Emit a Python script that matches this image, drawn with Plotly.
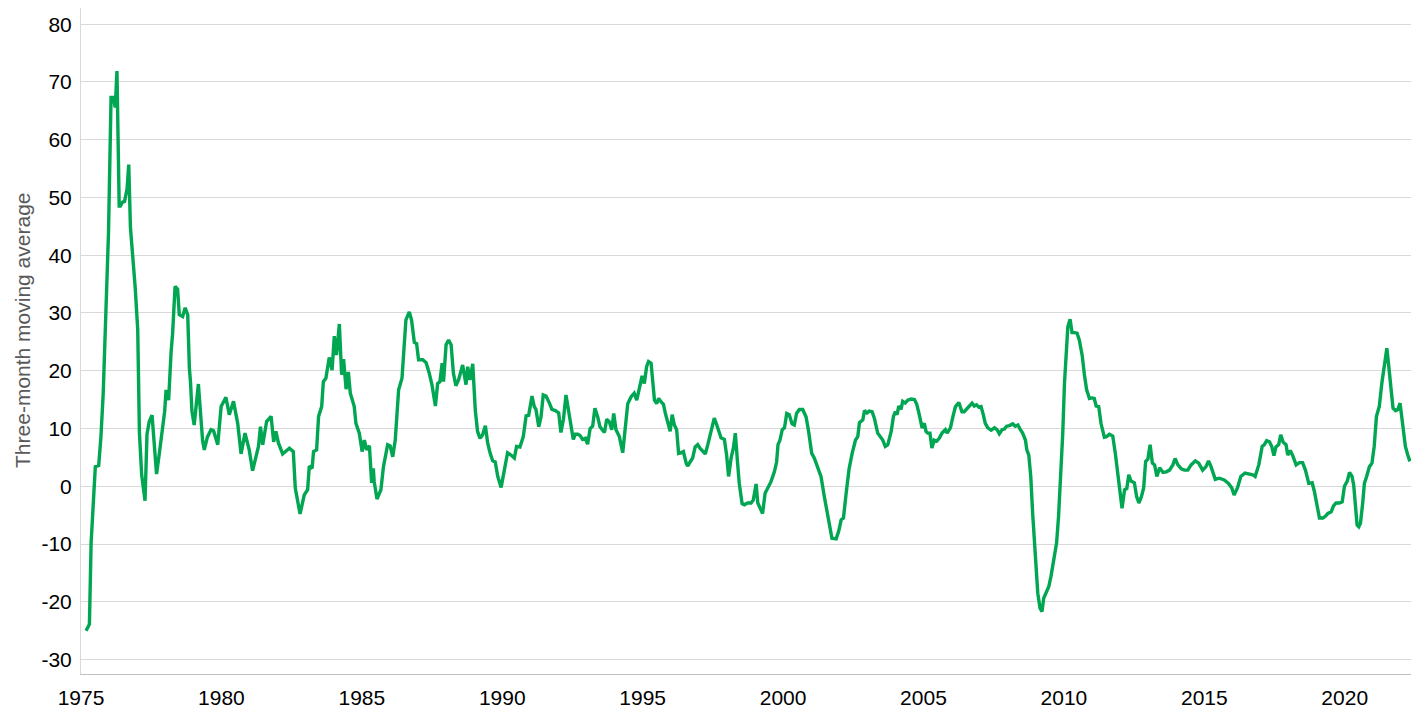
import plotly.graph_objects as go

# Decimal-year positions and three-month moving average values
years = [
    1975.18, 1975.30, 1975.36, 1975.44, 1975.51, 1975.63, 1975.71, 1975.79, 1975.89, 1975.98,
    1976.07, 1976.15, 1976.22, 1976.28, 1976.36, 1976.40, 1976.48, 1976.55, 1976.64, 1976.70,
    1976.76, 1976.84, 1976.93, 1977.02, 1977.08, 1977.16, 1977.28, 1977.35, 1977.43, 1977.53,
    1977.61, 1977.69, 1977.79, 1977.88, 1977.98, 1978.03, 1978.12, 1978.21, 1978.26, 1978.35,
    1978.44, 1978.50, 1978.62, 1978.71, 1978.80, 1978.86, 1978.90, 1978.95, 1979.03, 1979.18,
    1979.33, 1979.39, 1979.50, 1979.63, 1979.72, 1979.87, 1979.99, 1980.16, 1980.28, 1980.43,
    1980.58, 1980.70, 1980.84, 1980.99, 1981.11, 1981.32, 1981.39, 1981.47, 1981.61, 1981.77,
    1981.86, 1981.94, 1982.03, 1982.18, 1982.42, 1982.56, 1982.63, 1982.80, 1982.95, 1983.07,
    1983.13, 1983.23, 1983.28, 1983.39, 1983.46, 1983.57, 1983.63, 1983.72, 1983.84, 1983.94,
    1984.02, 1984.10, 1984.20, 1984.28, 1984.35, 1984.44, 1984.52, 1984.59, 1984.73, 1984.79,
    1984.91, 1985.01, 1985.09, 1985.17, 1985.27, 1985.35, 1985.41, 1985.44, 1985.54, 1985.68,
    1985.77, 1985.92, 1986.01, 1986.10, 1986.19, 1986.31, 1986.43, 1986.57, 1986.69, 1986.77,
    1986.87, 1986.95, 1987.02, 1987.17, 1987.29, 1987.40, 1987.50, 1987.62, 1987.70, 1987.78,
    1987.86, 1987.91, 1988.00, 1988.09, 1988.18, 1988.26, 1988.35, 1988.45, 1988.59, 1988.71,
    1988.77, 1988.85, 1988.95, 1989.04, 1989.12, 1989.21, 1989.30, 1989.40, 1989.48, 1989.57,
    1989.66, 1989.75, 1989.84, 1989.96, 1990.07, 1990.19, 1990.31, 1990.43, 1990.51, 1990.63,
    1990.75, 1990.85, 1990.94, 1991.06, 1991.14, 1991.20, 1991.30, 1991.38, 1991.46, 1991.56,
    1991.68, 1991.77, 1991.89, 1992.01, 1992.09, 1992.18, 1992.27, 1992.36, 1992.45, 1992.53,
    1992.60, 1992.69, 1992.77, 1992.86, 1992.96, 1993.04, 1993.13, 1993.22, 1993.30, 1993.40,
    1993.48, 1993.58, 1993.64, 1993.72, 1993.81, 1993.90, 1993.97, 1994.05, 1994.17, 1994.29,
    1994.41, 1994.47, 1994.59, 1994.70, 1994.79, 1994.86, 1994.98, 1995.06, 1995.14, 1995.21,
    1995.30, 1995.36, 1995.42, 1995.50, 1995.57, 1995.66, 1995.74, 1995.81, 1995.89, 1995.98,
    1996.05, 1996.13, 1996.21, 1996.28, 1996.37, 1996.45, 1996.55, 1996.60, 1996.69, 1996.78,
    1996.87, 1996.96, 1997.04, 1997.14, 1997.23, 1997.32, 1997.41, 1997.47, 1997.55, 1997.64,
    1997.73, 1997.79, 1997.91, 1997.99, 1998.06, 1998.15, 1998.23, 1998.30, 1998.38, 1998.44,
    1998.54, 1998.62, 1998.74, 1998.86, 1998.94, 1999.04, 1999.10, 1999.18, 1999.27, 1999.36,
    1999.45, 1999.57, 1999.69, 1999.77, 1999.82, 1999.89, 1999.97, 2000.05, 2000.13, 2000.22,
    2000.32, 2000.40, 2000.48, 2000.58, 2000.70, 2000.82, 2000.91, 2001.02, 2001.11, 2001.23,
    2001.35, 2001.47, 2001.59, 2001.67, 2001.74, 2001.89, 2001.98, 2002.07, 2002.15, 2002.24,
    2002.35, 2002.46, 2002.58, 2002.66, 2002.72, 2002.84, 2002.90, 2002.99, 2003.07, 2003.17,
    2003.25, 2003.37, 2003.46, 2003.55, 2003.64, 2003.73, 2003.85, 2003.93, 2004.00, 2004.06,
    2004.12, 2004.20, 2004.26, 2004.35, 2004.44, 2004.56, 2004.68, 2004.76, 2004.85, 2004.95,
    2005.03, 2005.09, 2005.15, 2005.23, 2005.30, 2005.38, 2005.47, 2005.56, 2005.66, 2005.78,
    2005.84, 2005.96, 2006.05, 2006.14, 2006.26, 2006.37, 2006.45, 2006.57, 2006.66, 2006.73,
    2006.81, 2006.89, 2006.97, 2007.05, 2007.13, 2007.20, 2007.29, 2007.41, 2007.53, 2007.62,
    2007.70, 2007.80, 2007.88, 2007.96, 2008.06, 2008.18, 2008.27, 2008.36, 2008.44, 2008.53,
    2008.63, 2008.68, 2008.75, 2008.82, 2008.89, 2009.01, 2009.07, 2009.15, 2009.22, 2009.28,
    2009.37, 2009.46, 2009.54, 2009.64, 2009.74, 2009.81, 2009.87, 2009.96, 2010.02, 2010.08,
    2010.14, 2010.22, 2010.29, 2010.37, 2010.47, 2010.55, 2010.65, 2010.73, 2010.81, 2010.91,
    2011.00, 2011.08, 2011.15, 2011.24, 2011.32, 2011.44, 2011.52, 2011.62, 2011.74, 2011.83,
    2011.92, 2012.00, 2012.07, 2012.16, 2012.24, 2012.31, 2012.39, 2012.51, 2012.59, 2012.67,
    2012.76, 2012.84, 2012.91, 2012.99, 2013.07, 2013.15, 2013.23, 2013.31, 2013.41, 2013.53,
    2013.65, 2013.76, 2013.88, 2013.96, 2014.06, 2014.18, 2014.29, 2014.41, 2014.53, 2014.68,
    2014.80, 2014.94, 2015.06, 2015.15, 2015.24, 2015.39, 2015.53, 2015.71, 2015.86, 2015.98,
    2016.06, 2016.18, 2016.30, 2016.45, 2016.58, 2016.72, 2016.81, 2016.94, 2017.06, 2017.14,
    2017.22, 2017.32, 2017.40, 2017.48, 2017.55, 2017.65, 2017.72, 2017.81, 2017.91, 2017.97,
    2018.06, 2018.15, 2018.27, 2018.39, 2018.50, 2018.60, 2018.72, 2018.84, 2018.92, 2019.00,
    2019.10, 2019.22, 2019.31, 2019.40, 2019.52, 2019.60, 2019.69, 2019.81, 2019.91, 2019.99,
    2020.09, 2020.17, 2020.26, 2020.32, 2020.38, 2020.44, 2020.50, 2020.56, 2020.64, 2020.70,
    2020.78, 2020.88, 2020.97, 2021.05, 2021.13, 2021.23, 2021.32, 2021.42, 2021.50, 2021.57,
    2021.66, 2021.72, 2021.81, 2021.89, 2021.97, 2022.06, 2022.16, 2022.24, 2022.32,
]

values = [
    -25.0, -23.9, -9.8, -1.0, 3.4, 3.6, 8.6, 16.0, 30.8, 44.0,
    67.3, 67.3, 65.6, 71.9, 48.5, 48.5, 49.2, 49.3, 51.5, 55.7,
    44.8, 40.3, 34.4, 27.1, 9.3, 2.0, -2.5, 9.0, 11.2, 12.3,
    7.1, 2.1, 5.7, 9.7, 13.0, 16.7, 14.9, 23.4, 26.3, 34.6,
    34.1, 29.7, 29.4, 30.9, 29.7, 20.4, 18.0, 13.0, 10.6, 17.7,
    7.9, 6.3, 8.5, 9.8, 9.6, 7.2, 13.8, 15.4, 12.4, 14.7,
    10.9, 5.6, 9.2, 6.3, 2.7, 6.9, 10.3, 7.2, 11.2, 12.1,
    7.7, 9.5, 7.5, 5.6, 6.6, 6.0, -0.3, -4.8, -1.5, -0.6,
    3.5, 3.1, 6.0, 6.3, 12.1, 13.8, 18.1, 18.7, 22.3, 20.1,
    26.0, 22.7, 28.1, 19.3, 22.0, 16.8, 19.8, 16.1, 13.8, 10.9,
    9.2, 6.0, 8.0, 6.3, 7.0, 0.6, 3.1, 0.8, -2.2, -0.6,
    3.4, 7.2, 7.0, 5.1, 8.0, 16.7, 18.7, 28.8, 30.2, 28.8,
    24.9, 24.7, 21.9, 21.9, 21.4, 19.6, 17.5, 13.9, 17.8, 18.1,
    21.3, 18.1, 24.5, 25.3, 24.5, 19.6, 17.4, 18.5, 21.0, 17.6,
    20.7, 18.4, 21.2, 13.2, 9.5, 8.3, 8.9, 10.5, 7.5, 5.7,
    4.4, 4.2, 1.7, -0.2, 2.5, 5.8, 5.4, 4.9, 6.9, 6.8,
    8.6, 12.2, 12.3, 15.6, 13.8, 13.3, 10.3, 12.0, 15.8, 15.6,
    14.4, 13.3, 13.1, 12.7, 9.3, 11.6, 15.8, 13.3, 10.3, 8.1,
    9.0, 9.0, 8.8, 8.1, 8.3, 7.3, 10.0, 10.4, 13.5, 12.0,
    10.3, 9.5, 9.3, 11.6, 11.2, 9.8, 12.6, 9.8, 8.6, 5.8,
    11.6, 14.3, 15.5, 16.1, 14.9, 16.7, 19.1, 17.8, 20.7, 21.6,
    21.3, 18.1, 14.9, 14.3, 15.2, 14.6, 14.2, 12.6, 11.0, 9.5,
    12.4, 10.6, 9.8, 5.7, 5.8, 6.0, 4.0, 3.5, 4.2, 4.9,
    6.8, 7.2, 6.6, 6.0, 5.6, 7.2, 9.0, 9.8, 11.8, 10.6,
    9.2, 8.4, 8.1, 5.4, 1.7, 4.9, 6.6, 9.2, 4.0, 0.5,
    -3.0, -3.2, -2.9, -2.9, -2.4, 0.4, -2.9, -3.7, -4.7, -1.2,
    -0.3, 0.8, 2.5, 4.2, 7.2, 8.0, 9.8, 10.1, 12.6, 12.4,
    10.8, 10.6, 12.6, 13.3, 13.3, 12.0, 9.5, 5.7, 4.9, 3.4,
    1.7, -1.8, -4.7, -7.0, -9.0, -9.1, -7.8, -5.8, -5.5, -1.5,
    3.0, 5.7, 8.0, 8.6, 11.0, 11.5, 13.1, 12.7, 13.0, 12.9,
    11.8, 9.2, 8.6, 8.0, 6.9, 7.2, 9.5, 12.1, 12.9, 12.4,
    13.9, 13.3, 14.7, 14.4, 14.9, 15.1, 15.0, 14.2, 12.4, 10.1,
    10.9, 9.5, 9.2, 9.2, 6.6, 8.0, 7.8, 8.3, 9.2, 9.8,
    9.2, 10.1, 12.1, 13.8, 14.5, 12.9, 12.9, 13.6, 14.1, 14.4,
    13.9, 14.1, 13.7, 13.8, 12.4, 10.9, 10.1, 9.7, 10.1, 9.8,
    9.1, 9.8, 9.9, 10.4, 10.5, 10.8, 10.4, 10.6, 9.9, 9.2,
    8.0, 6.3, 5.4, 1.7, -4.9, -12.7, -18.5, -21.1, -21.7, -19.4,
    -18.5, -17.4, -15.6, -13.0, -9.8, -5.2, 0.0, 9.2, 17.8, 23.9,
    27.6, 28.9, 26.6, 26.6, 26.5, 25.3, 22.7, 19.3, 16.7, 15.2,
    15.3, 15.2, 13.9, 13.8, 10.9, 8.5, 8.6, 9.0, 8.7, 5.7,
    1.7, -1.8, -3.8, -0.6, -0.4, 2.0, 0.9, 0.6, -1.8, -2.9,
    -1.8, -0.3, 4.3, 4.7, 7.2, 4.0, 3.7, 1.7, 3.2, 2.4,
    2.5, 2.8, 3.7, 4.8, 3.7, 3.0, 2.8, 2.8, 3.7, 4.4,
    4.0, 2.8, 3.4, 4.4, 3.4, 1.2, 1.4, 1.1, 0.5, -0.3,
    -1.5, -0.3, 1.7, 2.3, 2.2, 2.0, 1.7, 3.7, 6.9, 7.2,
    7.9, 7.7, 6.9, 5.3, 6.8, 7.2, 8.9, 7.6, 7.2, 5.4,
    6.2, 5.3, 3.7, 4.1, 4.1, 2.8, 0.5, 0.6, -0.9, -3.2,
    -5.5, -5.5, -5.2, -4.7, -4.4, -3.4, -2.9, -2.9, -2.7, 0.0,
    0.9, 2.4, 1.7, 0.2, -4.4, -6.7, -7.0, -6.4, -2.9, 0.5,
    1.7, 3.4, 4.0, 6.9, 12.1, 13.8, 17.8, 20.7, 23.9, 20.7,
    16.7, 13.5, 13.1, 13.3, 14.4, 10.9, 6.9, 5.5, 4.3,
]

x_ticks = [1975, 1980, 1985, 1990, 1995, 2000, 2005, 2010, 2015, 2020]
y_ticks = [-30, -20, -10, 0, 10, 20, 30, 40, 50, 60, 70, 80]
y_title = "Three-month moving average"

FONT = "Liberation Sans, Arial, sans-serif"

fig = go.Figure()
fig.add_trace(go.Scatter(
    x=years, y=values, mode="lines",
    line=dict(color="#00a651", width=3.4),
    hoverinfo="x+y", showlegend=False,
))

fig.update_layout(
    width=1411, height=709,
    margin=dict(l=81, r=0, t=8, b=35, autoexpand=False),
    paper_bgcolor="white", plot_bgcolor="white",
    font=dict(family=FONT, size=21, color="#000000"),
    annotations=[dict(
        text=y_title, textangle=-90,
        xref="paper", yref="paper", x=-0.0444, y=0.5165,
        xanchor="center", yanchor="middle", showarrow=False,
        font=dict(family=FONT, size=21, color="#595959"),
    )],
)
fig.update_xaxes(
    range=[1975, 2022.36], tickvals=x_ticks, ticktext=[str(t) for t in x_ticks],
    showgrid=False, zeroline=False, showline=True, linecolor="#bfbfbf", linewidth=1,
    ticks="", ticklabelstandoff=5, automargin=False,
    tickfont=dict(family=FONT, size=21, color="#000000"),
)
fig.update_yaxes(
    range=[-32.5, 82.8], tickvals=y_ticks, ticktext=[str(t) for t in y_ticks],
    showgrid=True, gridcolor="#d9d9d9", gridwidth=1, zeroline=False,
    showline=True, linecolor="#d9d9d9", linewidth=1,
    ticks="", ticklabelstandoff=4, automargin=False,
    tickfont=dict(family=FONT, size=21, color="#000000"),
)

# Remove the default page margin so the 1411x709 figure fills the window exactly.
fig.write_html(
    "out.html",
    config={"displayModeBar": False},
    post_script="document.body.style.margin='0';document.body.style.overflow='hidden';",
)
